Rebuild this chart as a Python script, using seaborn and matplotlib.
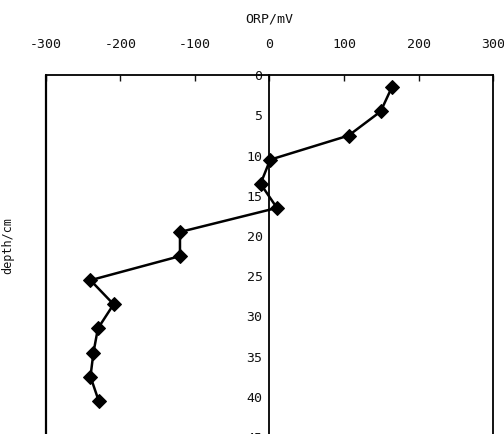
import numpy as np
import pandas as pd
import matplotlib
matplotlib.use("Agg")
import matplotlib.pyplot as plt
import seaborn as sns

# ORP profile by depth
depth = [1.5, 4.5, 7.5, 10.5, 13.5, 16.5, 19.5, 22.5, 25.5, 28.5, 31.5, 34.5, 37.5, 40.5]
orp = [164, 149, 106, 1, -12, 10, -120, -120, -240, -209, -230, -236, -240, -229]

x_ticks = [-300, -200, -100, 0, 100, 200, 300]
y_ticks = [0, 5, 10, 15, 20, 25, 30, 35, 40, 45]

df = pd.DataFrame({"ORP": orp, "depth": depth})

sns.set_style("white")
plt.rcParams["font.family"] = ["DejaVu Sans Mono", "DejaVu Sans"]
plt.rcParams["axes.unicode_minus"] = False

fig = plt.figure(figsize=(5.04, 4.34), dpi=100)
ax = fig.add_axes([0.0907, -0.0067, 0.888, 0.8332])

sns.lineplot(data=df, x="ORP", y="depth", sort=False, estimator=None,
             marker="D", markersize=7.5, color="black", linewidth=1.8,
             markeredgecolor="black", ax=ax)

ax.set_xlim(-300, 300)
ax.set_ylim(45, 0)
ax.set_xticks(x_ticks)
ax.set_yticks(y_ticks)

# x axis on top, y axis crossing at zero
ax.xaxis.tick_top()
ax.xaxis.set_label_position("top")
ax.spines["left"].set_position(("data", 0))
ax.axvline(-300, color="black", linewidth=1.6, clip_on=False)
for s in ["top", "right", "left", "bottom"]:
    ax.spines[s].set_color("black")
    ax.spines[s].set_linewidth(1.3)

ax.tick_params(axis="x", direction="in", length=4, width=1, labelsize=9.5,
               pad=22, colors="#111111")
ax.tick_params(axis="y", direction="in", length=4, width=1, labelsize=9.5,
               pad=5, colors="#111111")
for lbl in ax.get_xticklabels():
    lbl.set_verticalalignment("center")

ax.set_xlabel("ORP/mV", fontsize=9.5, labelpad=11, color="#111111")
ax.set_ylabel("")
fig.text(8 / 504, 1 - 245 / 434, "depth/cm", rotation=90, fontsize=8.5,
         ha="center", va="center", color="#111111")

fig.savefig("out.png", dpi=100)
